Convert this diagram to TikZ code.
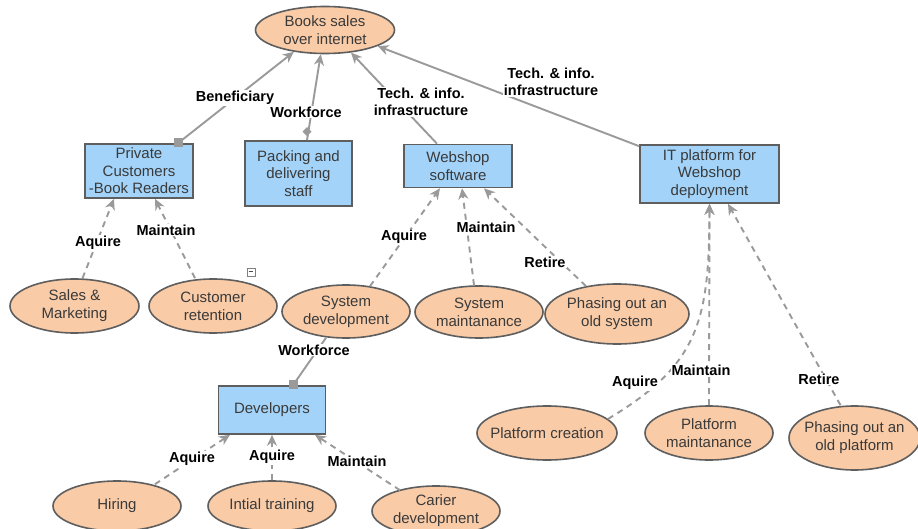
\documentclass[tikz,border=0pt]{standalone}
\usepackage{fontspec}
\setmainfont{Liberation Sans}
\usetikzlibrary{shapes.geometric,arrows.meta}
\definecolor{peach}{HTML}{F9CBA7}
\definecolor{skyb}{HTML}{A3D3F8}
\definecolor{bord}{HTML}{5E5E5E}
\definecolor{edgec}{HTML}{9A9A9A}
\definecolor{txt}{HTML}{3A3A3A}
\begin{document}
\begin{tikzpicture}[x=1pt,y=-1pt,
  >={Stealth[length=11pt,width=10pt,inset=3.5pt]},
  goal/.style={ellipse, draw=bord, line width=1.6pt, fill=peach, inner xsep=-25pt, inner ysep=-10pt,
    align=center, text=txt, font=\fontsize{15}{18}\selectfont},
  unit/.style={rectangle, draw=bord, line width=1.6pt, fill=skyb, inner sep=0pt,
    align=center, text=txt, font=\fontsize{15}{17.5}\selectfont},
  rel/.style={draw=edgec, line width=1.9pt, ->},
  plain/.style={draw=edgec, line width=1.9pt},
  dep/.style={rel, dash pattern=on 6pt off 5pt},
  lbl/.style={fill=white, inner sep=1pt, align=center, text=black,
    font=\bfseries\fontsize{14.5}{17.5}\selectfont},
  marker/.style={fill=edgec},
]
\path[use as bounding box, clip] (0,0) rectangle (918,529);
\fill[white] (0,0) rectangle (918,529);

% nodes
\node[goal, minimum width=139pt, minimum height=47pt] (books) at (325,30) {Books sales\\over internet};
\node[unit, minimum width=108pt, minimum height=54pt] (pc) at (139,171) {Private\\Customers\\-Book Readers};
\node[unit, minimum width=107pt, minimum height=65pt] (pack) at (298.5,173.5) {Packing and\\delivering\\staff};
\node[unit, minimum width=108pt, minimum height=43pt] (ws) at (458,166) {Webshop\\software};
\node[unit, minimum width=139pt, minimum height=58pt] (it) at (709.5,174) {IT platform for\\Webshop\\deployment};
\node[unit, minimum width=107pt, minimum height=48pt] (dev) at (272,410) {Developers};

\node[goal, minimum width=129pt, minimum height=54pt] (sm) at (74.5,306) {Sales \&\\Marketing};
\node[goal, minimum width=128pt, minimum height=54pt] (cr) at (213,306) {Customer\\retention};
\node[goal, minimum width=128pt, minimum height=53pt] (sd) at (346,311.5) {System\\development};
\node[goal, minimum width=128pt, minimum height=52pt] (smt) at (479,312) {System\\maintanance};
\node[goal, minimum width=144pt, minimum height=60pt] (pos) at (617,314) {Phasing out an\\old system};
\node[goal, minimum width=128pt, minimum height=50pt] (hire) at (117,506) {Hiring};
\node[goal, minimum width=128pt, minimum height=50pt] (train) at (272,506) {Intial training};
\node[goal, minimum width=128pt, minimum height=50pt] (car) at (436,511) {Carier\\development};
\node[goal, minimum width=140pt, minimum height=54pt] (pcr) at (547,433) {Platform creation};
\node[goal, minimum width=128pt, minimum height=54pt] (pm) at (709,433) {Platform\\maintanance};
\node[goal, minimum width=131pt, minimum height=64pt] (pop) at (854.5,438) {Phasing out an\\old platform};

% solid relations
\draw[rel] ([xshift=39pt]pc.north) -- (books.-145);
\fill[marker] ([xshift=39pt]pc.north) ++(-4.5,-5) rectangle ++(9,9);
\draw[rel] ([xshift=8.5pt]pack.north) -- (books.-100);
\fill[marker] ([xshift=8.5pt,yshift=4pt]pack.north) -- ++(4.5,-4.5) -- ++(-4.5,-4.5) -- ++(-4.5,4.5) -- cycle;
\draw[rel] ([xshift=-21pt]ws.north) -- (books.-41);
\draw[rel] ([yshift=-2pt]it.north west) -- (books.-17);
\draw[plain] ([xshift=21pt]dev.north) -- ([xshift=-20pt,yshift=1pt]sd.south);
\fill[marker] ([xshift=21pt]dev.north) ++(-4.5,-5) rectangle ++(9,9);

% dashed relations
\draw[dep] ([xshift=8pt]sm.north) -- ([xshift=-25pt]pc.south);
\draw[dep] ([xshift=-18pt]cr.north) -- ([xshift=16pt]pc.south);
\draw[dep] ([xshift=24pt,yshift=-2pt]sd.north) -- ([xshift=-18pt]ws.south);
\draw[dep] ([xshift=-5pt]smt.north) -- ([xshift=4pt]ws.south);
\draw[dep] ([xshift=-31pt,yshift=-3pt]pos.north) -- ([xshift=26pt]ws.south);
\draw[dep] ([xshift=38pt,yshift=-4pt]hire.north) -- ([xshift=-42pt]dev.south);
\draw[dep] (train.north) -- (dev.south);
\draw[dep] ([xshift=-36pt,yshift=-5pt]car.north) -- ([xshift=43pt]dev.south);
\draw[dep] (pcr.13) .. controls (700,364) and (709,320) .. (it.south);
\draw[dep] (pm.north) -- (it.south);
\draw[dep] ([xshift=-14pt]pop.north) -- ([xshift=18.5pt]it.south);

% labels
\node[lbl] (l1) at (235,98) {Beneficiary};
\node[lbl] (l2) at (306,112) {Workforce};
\node[lbl] (l3) at (421,102) {Tech. \& info.\\infrastructure};
\node[lbl] (l4) at (551,82) {Tech. \& info.\\infrastructure};
\node[lbl] (l5) at (98,243) {Aquire};
\node[lbl] (l6) at (166,230) {Maintain};
\node[lbl] (l7) at (404,237) {Aquire};
\node[lbl] (l8) at (486,227) {Maintain};
\node[lbl] (l9) at (545,262) {Retire};
\node[lbl] (l10) at (314,350) {Workforce};
\node[lbl] (l11) at (192,459) {Aquire};
\node[lbl] (l12) at (272,457) {Aquire};
\node[lbl] (l13) at (357,461) {Maintain};
\node[lbl] (l14) at (635,383) {Aquire};
\node[lbl] (l15) at (701,370) {Maintain};
\node[lbl] (l16) at (819,379) {Retire};

% collapse icon
\node[draw=gray, fill=white, line width=0.8pt, minimum size=8pt, inner sep=0pt] (col) at (251,272) {};
\draw[line width=1pt, black!70] ([xshift=2pt]col.west) -- ([xshift=-2pt]col.east);
\end{tikzpicture}
\end{document}
